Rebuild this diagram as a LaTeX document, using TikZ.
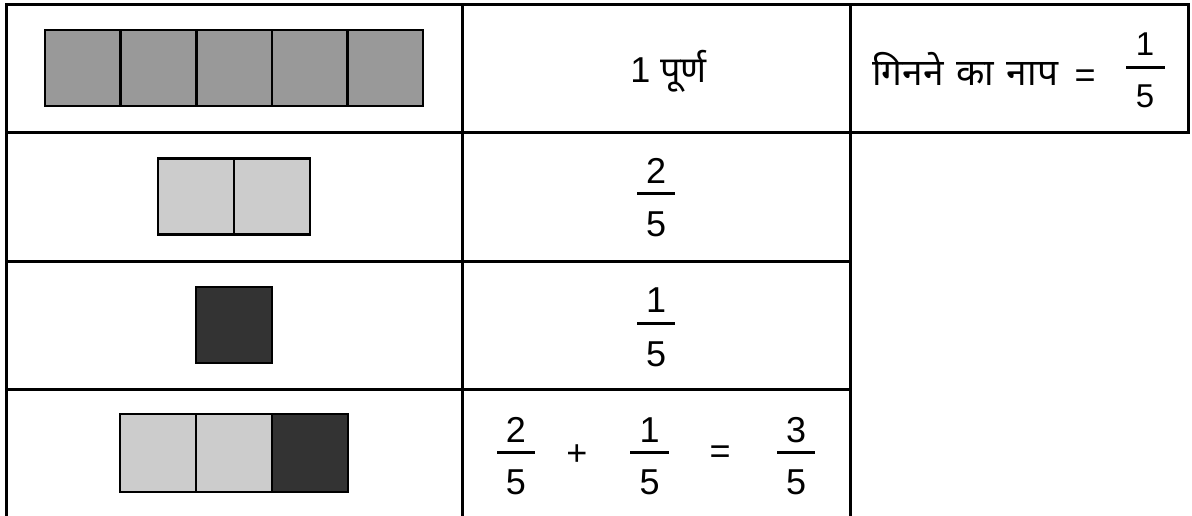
\documentclass[tikz,border=0pt]{standalone}
\usepackage{fontspec}
\setmainfont{Liberation Sans}
\newfontfamily\devafont[Script=Devanagari,WordSpace=1.3]{Noto Sans}
\definecolor{wholegray}{HTML}{999999}
\definecolor{palegray}{HTML}{CCCCCC}
\definecolor{darkgray}{HTML}{333333}

\begin{document}
\begin{tikzpicture}[x=0.5pt,y=-0.5pt,
  rule/.style={line width=1.5pt,line cap=rect},
  unit/.style={draw=black,line width=1.3pt},
  digit/.style={inner sep=0pt,font=\fontsize{18}{22}\selectfont},
  smalldigit/.style={inner sep=0pt,font=\fontsize{16.5}{19}\selectfont},
  hindi/.style={inner sep=0pt,font=\fontsize{18.5}{22}\selectfont\devafont},
  fbar/.style={line width=1.5pt}]
\useasboundingbox (0,0) rectangle (1192,515);
% table frame
\draw[rule] (6,4) -- (1188,4);
\draw[rule] (6,4) -- (6,515);
\draw[rule] (462,4) -- (462,515);
\draw[rule] (850,4) -- (850,515);
\draw[rule] (1188,4) -- (1188,132);
\draw[rule] (6,132) -- (1188,132);
\draw[rule] (6,261) -- (850,261);
\draw[rule] (6,389) -- (850,389);
% whole strip, five parts
\filldraw[unit,fill=wholegray] (45,30) rectangle (120.6,106);
\filldraw[unit,fill=wholegray] (120.6,30) rectangle (196.2,106);
\filldraw[unit,fill=wholegray] (196.2,30) rectangle (271.8,106);
\filldraw[unit,fill=wholegray] (271.8,30) rectangle (347.4,106);
\filldraw[unit,fill=wholegray] (347.4,30) rectangle (423,106);
% two fifths
\filldraw[unit,fill=palegray] (158,158.5) rectangle (234,234.5);
\filldraw[unit,fill=palegray] (234,158.5) rectangle (310,234.5);
% one fifth
\filldraw[unit,fill=darkgray] (196,287) rectangle (272,363);
% sum
\filldraw[unit,fill=palegray] (120,414) rectangle (196,492);
\filldraw[unit,fill=palegray] (196,414) rectangle (272,492);
\filldraw[unit,fill=darkgray] (272,414) rectangle (348,492);
% texts
\node[digit,anchor=base west] (whole) at (630,82) {1 {\fontsize{18}{22}\selectfont\devafont पूर्ण}};
\node[hindi,anchor=base west] (measure) at (872,85) {गिनने का नाप};
\node[digit] (meq) at (1085,79) {=};
\node[smalldigit] (mnum) at (1145,44) {1};
\draw[fbar] (1126,67) -- (1165,67);
\node[smalldigit] (mden) at (1145,96.5) {5};
\node[digit] (anum) at (656,171) {2};
\draw[fbar] (637,193) -- (675,193);
\node[digit] (aden) at (656,224) {5};
\node[digit] (bnum) at (656,300) {1};
\draw[fbar] (637,323) -- (675,323);
\node[digit] (bden) at (656,354) {5};
\node[digit] (cnum) at (516,430) {2};
\draw[fbar] (497,452) -- (535,452);
\node[digit] (cden) at (516,482) {5};
\node[digit] (plus) at (577,455) {+};
\node[digit] (dnum) at (649.5,430) {1};
\draw[fbar] (630,452) -- (669,452);
\node[digit] (dden) at (649.5,482) {5};
\node[digit] (equal) at (720,455) {=};
\node[digit] (enum) at (796,430) {3};
\draw[fbar] (777,452) -- (815,452);
\node[digit] (eden) at (796,482) {5};
\end{tikzpicture}
\end{document}
